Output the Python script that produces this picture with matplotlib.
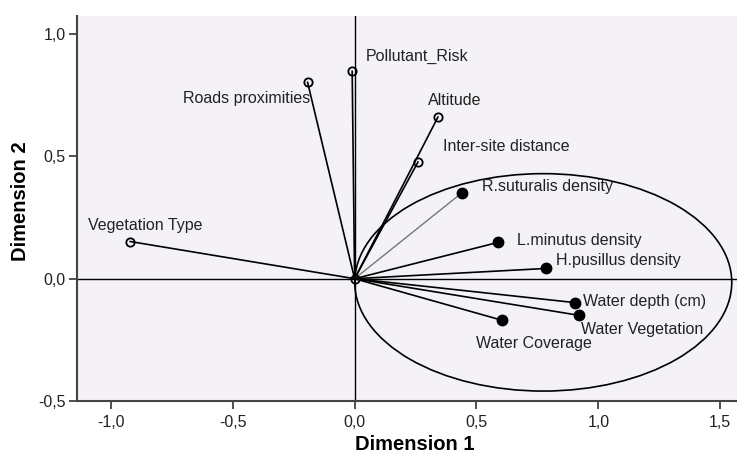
import matplotlib.pyplot as plt
from matplotlib.patches import Ellipse

# variable loadings (open circles = supplementary, filled = species / water)
open_names = ["Roads proximities", "Pollutant_Risk", "Altitude",
              "Inter-site distance", "Vegetation Type"]
open_x = [-0.193, -0.010, 0.342, 0.260, -0.921]
open_y = [0.803, 0.848, 0.661, 0.477, 0.152]

filled_names = ["R.suturalis density", "L.minutus density", "H.pusillus density",
                "Water depth (cm)", "Water Vegetation", "Water Coverage"]
filled_x = [0.440, 0.587, 0.787, 0.906, 0.922, 0.605]
filled_y = [0.351, 0.148, 0.042, -0.098, -0.150, -0.170]

x_ticks = [-1.0, -0.5, 0.0, 0.5, 1.0, 1.5]
y_ticks = [-0.5, 0.0, 0.5, 1.0]

# label placement in pixels relative to the point
open_offsets = [(3, -16, "right"), (14, 15, "left"), (-10, 17, "left"),
                (25, 16, "left"), (-42, 16, "left")]
filled_offsets = [(20, 6, "left"), (19, 2, "left"), (10, 8, "left"),
                  (8, 1, "left"), (2, -14, "left"), (-26, -23, "left")]

plt.rcParams['font.family'] = ['Liberation Sans', 'DejaVu Sans']

fig = plt.figure(figsize=(7.37, 4.58), dpi=100)
ax = fig.add_axes([0.1045, 0.1245, 0.8955, 0.8405])
ax.set_facecolor('#f4f2f6')

ax.set_xlim(-1.139, 1.569)
ax.set_ylim(-0.5, 1.074)

ax.axhline(0, color='black', lw=1.0, zorder=1)
ax.axvline(0, color='black', lw=1.0, zorder=1)

for x, y in zip(open_x, open_y):
    ax.plot([0, x], [0, y], color='black', lw=1.2, zorder=2)
for i, (x, y) in enumerate(zip(filled_x, filled_y)):
    col = '#777777' if i == 0 else 'black'
    ax.plot([0, x], [0, y], color=col, lw=1.0 if i == 0 else 1.2, zorder=2)

ax.plot(open_x, open_y, 'o', ms=6, mfc='none', mec='black', mew=1.3, zorder=3)
ax.plot([0], [0], 'o', ms=6, mfc='none', mec='black', mew=1.3, zorder=3)
ax.plot(filled_x, filled_y, 'o', ms=7.5, color='black', zorder=3)

for name, x, y, (dx, dy, ha) in zip(open_names, open_x, open_y, open_offsets):
    ax.annotate(name, (x, y), xytext=(dx, dy), textcoords='offset pixels',
                ha=ha, va='center', fontsize=11.5, color='#222222')
for name, x, y, (dx, dy, ha) in zip(filled_names, filled_x, filled_y, filled_offsets):
    ax.annotate(name, (x, y), xytext=(dx, dy), textcoords='offset pixels',
                ha=ha, va='center', fontsize=11.5, color='#222222')

ell = Ellipse((0.774, -0.015), 1.547, 0.889, fill=False, ec='black', lw=1.2, zorder=2)
ax.add_patch(ell)

ax.set_xticks(x_ticks)
ax.set_yticks(y_ticks)
ax.set_xticklabels([f"{v:.1f}".replace('.', ',') for v in x_ticks])
ax.set_yticklabels([f"{v:.1f}".replace('.', ',') for v in y_ticks])
ax.tick_params(labelsize=11.5, length=6, width=1.2, pad=2,
               colors='#333333', labelcolor='#222222')
ax.tick_params(axis='x', pad=4)

for side in ['top', 'right']:
    ax.spines[side].set_visible(False)
for side in ['left', 'bottom']:
    ax.spines[side].set_color('#444444')
    ax.spines[side].set_linewidth(1.5)

ax.set_xlabel("Dimension 1", fontsize=14.5, fontweight='bold', labelpad=4, x=0.512)
ax.set_ylabel("Dimension 2", fontsize=14.5, fontweight='bold', labelpad=6, y=0.52)

fig.savefig("out.png", dpi=100)
